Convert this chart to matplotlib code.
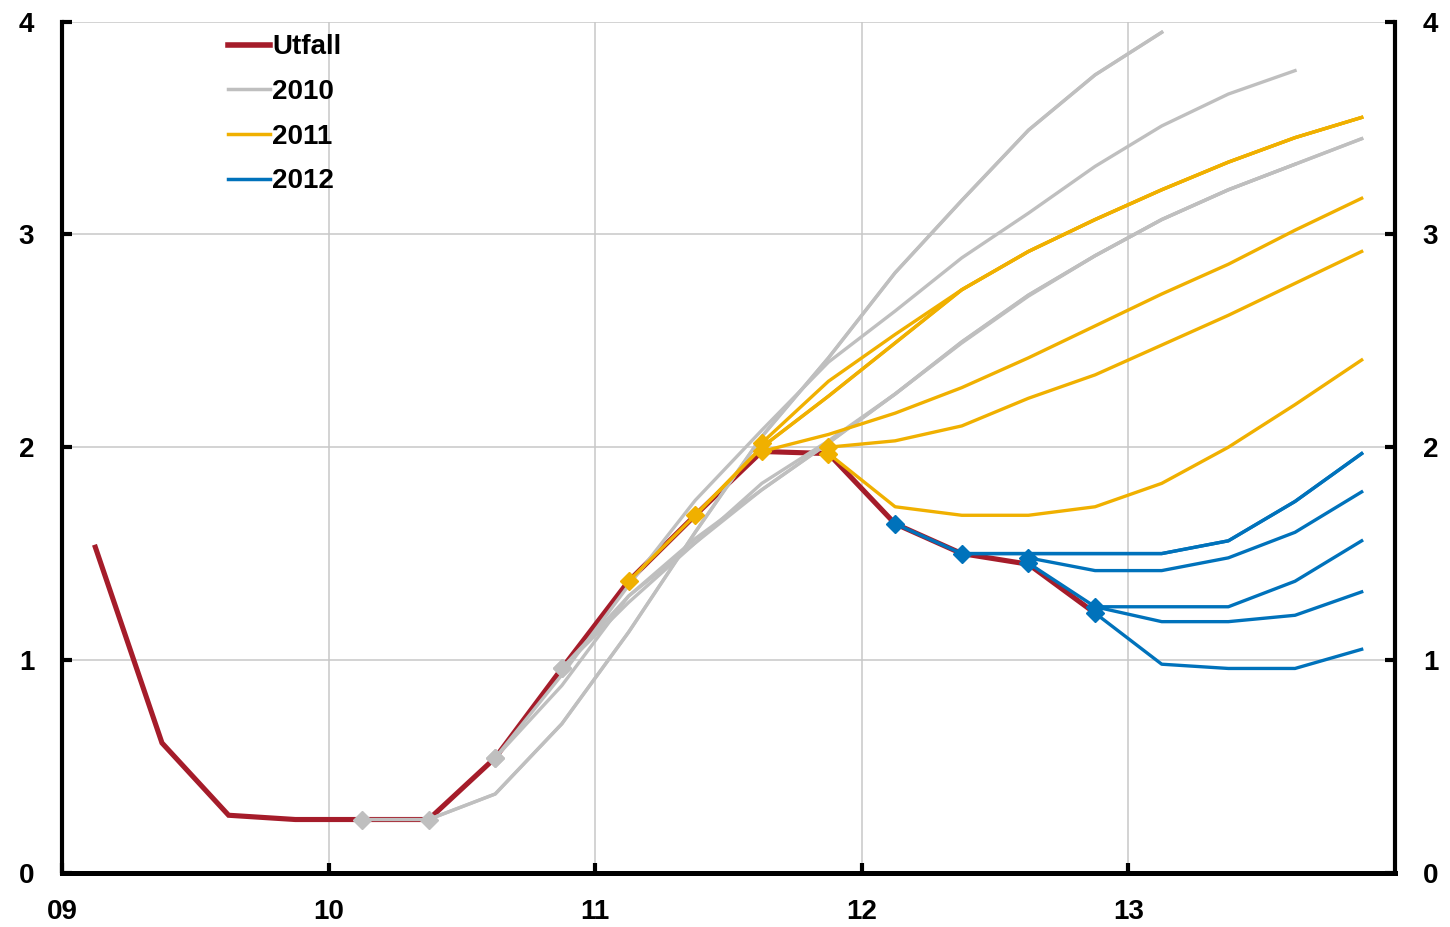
import numpy as np
import matplotlib.pyplot as plt
from matplotlib.lines import Line2D

plt.rcParams['font.family'] = ['Liberation Sans', 'DejaVu Sans']
plt.rcParams['font.weight'] = 'bold'

# utfall, kvartalsmedel
utfall_start = '2009Q1'
utfall = [1.53, 0.61, 0.27, 0.25, 0.25, 0.25, 0.54, 0.96,
          1.37, 1.68, 1.98, 1.97, 1.64, 1.50, 1.45, 1.22]

# prognoser 2010
f10_feb = [0.25, 0.25, 0.37, 0.70, 1.13, 1.60, 2.05, 2.42, 2.82, 3.16, 3.49, 3.75, 3.95]
f10_apr = [0.25, 0.37, 0.70, 1.13, 1.60, 2.05, 2.42, 2.82, 3.16, 3.49, 3.75, 3.95]
f10_jul = [0.54, 0.93, 1.35, 1.75, 2.08, 2.40, 2.64, 2.89, 3.10, 3.32, 3.51, 3.66, 3.77]
f10_sep = [0.54, 0.88, 1.30, 1.55, 1.83, 2.03, 2.25, 2.49, 2.71, 2.90, 3.07, 3.21, 3.33]
f10_okt = [0.96, 1.30, 1.57, 1.80, 2.02, 2.25, 2.495, 2.715, 2.90, 3.07, 3.21, 3.33, 3.45]
f10_dec = [0.96, 1.27, 1.55, 1.80, 2.02, 2.25, 2.495, 2.715, 2.90, 3.07, 3.21, 3.33, 3.45]
start_2010 = ['2010Q1', '2010Q2', '2010Q3', '2010Q3', '2010Q4', '2010Q4']

# prognoser 2011
f11_feb = [1.37, 1.68, 2.00, 2.24, 2.49, 2.74, 2.92, 3.07, 3.21, 3.34, 3.455, 3.55]
f11_apr = [1.68, 2.00, 2.24, 2.49, 2.74, 2.92, 3.07, 3.21, 3.34, 3.455, 3.55]
f11_jul = [2.02, 2.31, 2.53, 2.74, 2.92, 3.07, 3.21, 3.34, 3.455, 3.55]
f11_sep = [1.98, 2.06, 2.16, 2.28, 2.42, 2.57, 2.72, 2.86, 3.02, 3.17]
f11_okt = [2.00, 2.03, 2.10, 2.23, 2.34, 2.48, 2.62, 2.77, 2.92]
f11_dec = [1.97, 1.72, 1.68, 1.68, 1.72, 1.83, 2.00, 2.20, 2.41]
start_2011 = ['2011Q1', '2011Q2', '2011Q3', '2011Q3', '2011Q4', '2011Q4']

# prognoser 2012
f12_feb = [1.64, 1.50, 1.50, 1.50, 1.50, 1.56, 1.745, 1.97]
f12_apr = [1.50, 1.50, 1.50, 1.50, 1.56, 1.745, 1.97]
f12_jul = [1.48, 1.42, 1.42, 1.48, 1.60, 1.79]
f12_sep = [1.455, 1.25, 1.25, 1.25, 1.37, 1.56]
f12_okt = [1.25, 1.18, 1.18, 1.21, 1.32]
f12_dec = [1.22, 0.98, 0.96, 0.96, 1.05]
start_2012 = ['2012Q1', '2012Q2', '2012Q3', '2012Q3', '2012Q4', '2012Q4']

xtick_years = [2009, 2010, 2011, 2012, 2013]
xtick_labels = ['09', '10', '11', '12', '13']

rod = '#a51c2a'
gra = '#bfbfbf'
gul = '#f0b000'
bla = '#0072bb'


def kvartal(start, n):
    # mitten av varje kvartal i decimalår
    y, q = int(start[:4]), int(start[5])
    x = []
    for i in range(n):
        x.append(y + (q - 0.5) / 4)
        q += 1
        if q > 4:
            q = 1
            y += 1
    return x


fig = plt.figure(figsize=(14.5, 9.27), dpi=100)
ax = fig.add_axes([62/1450, 1 - 872.7/927, (1395-62)/1450, 851/927])

ax.plot(kvartal(utfall_start, len(utfall)), utfall, color=rod, lw=3.7,
        solid_joinstyle='miter', zorder=3)

grupper = [
    (gra, start_2010, [f10_feb, f10_apr, f10_jul, f10_sep, f10_okt, f10_dec]),
    (gul, start_2011, [f11_feb, f11_apr, f11_jul, f11_sep, f11_okt, f11_dec]),
    (bla, start_2012, [f12_feb, f12_apr, f12_jul, f12_sep, f12_okt, f12_dec]),
]
z = 4
for farg, starter, serier in grupper:
    for s, v in zip(starter, serier):
        x = kvartal(s, len(v))
        ax.plot(x, v, color=farg, lw=2.4, zorder=z)
        ax.plot(x[0], v[0], marker='D', ms=9.5, color=farg, zorder=z + 0.5)
    z += 1

ax.set_xlim(2009, 2014)
ax.set_ylim(0, 4)
ax.set_xticks(xtick_years)
ax.set_xticklabels(xtick_labels)
ax.set_yticks([0, 1, 2, 3, 4])
ax.grid(True, color='#c8c8c8', lw=1.1, zorder=0)
ax.set_axisbelow(True)

ax.spines['top'].set_visible(False)
for side in ['left', 'right']:
    ax.spines[side].set_linewidth(3)
ax.spines['bottom'].set_linewidth(3.6)

ax.tick_params(axis='both', direction='in', length=7, width=3, labelsize=20, color='black')
for lab in ax.get_xticklabels() + ax.get_yticklabels():
    lab.set_fontweight('bold')
ax.tick_params(axis='y', left=True, right=True, labelleft=True, labelright=True, pad=20)
ax.tick_params(axis='x', pad=19)

handles = [Line2D([], [], color=rod, lw=4),
           Line2D([], [], color=gra, lw=2.5),
           Line2D([], [], color=gul, lw=2.5),
           Line2D([], [], color=bla, lw=2.5)]
ax.legend(handles, ['Utfall', '2010', '2011', '2012'], loc='upper left',
          bbox_to_anchor=((228-62)/1333, 0.985), borderaxespad=0, borderpad=0,
          frameon=False, handlelength=1.5, handletextpad=0.08, labelspacing=0.67,
          prop={'size': 20, 'weight': 'bold'})

fig.savefig('out.png', dpi=100)
